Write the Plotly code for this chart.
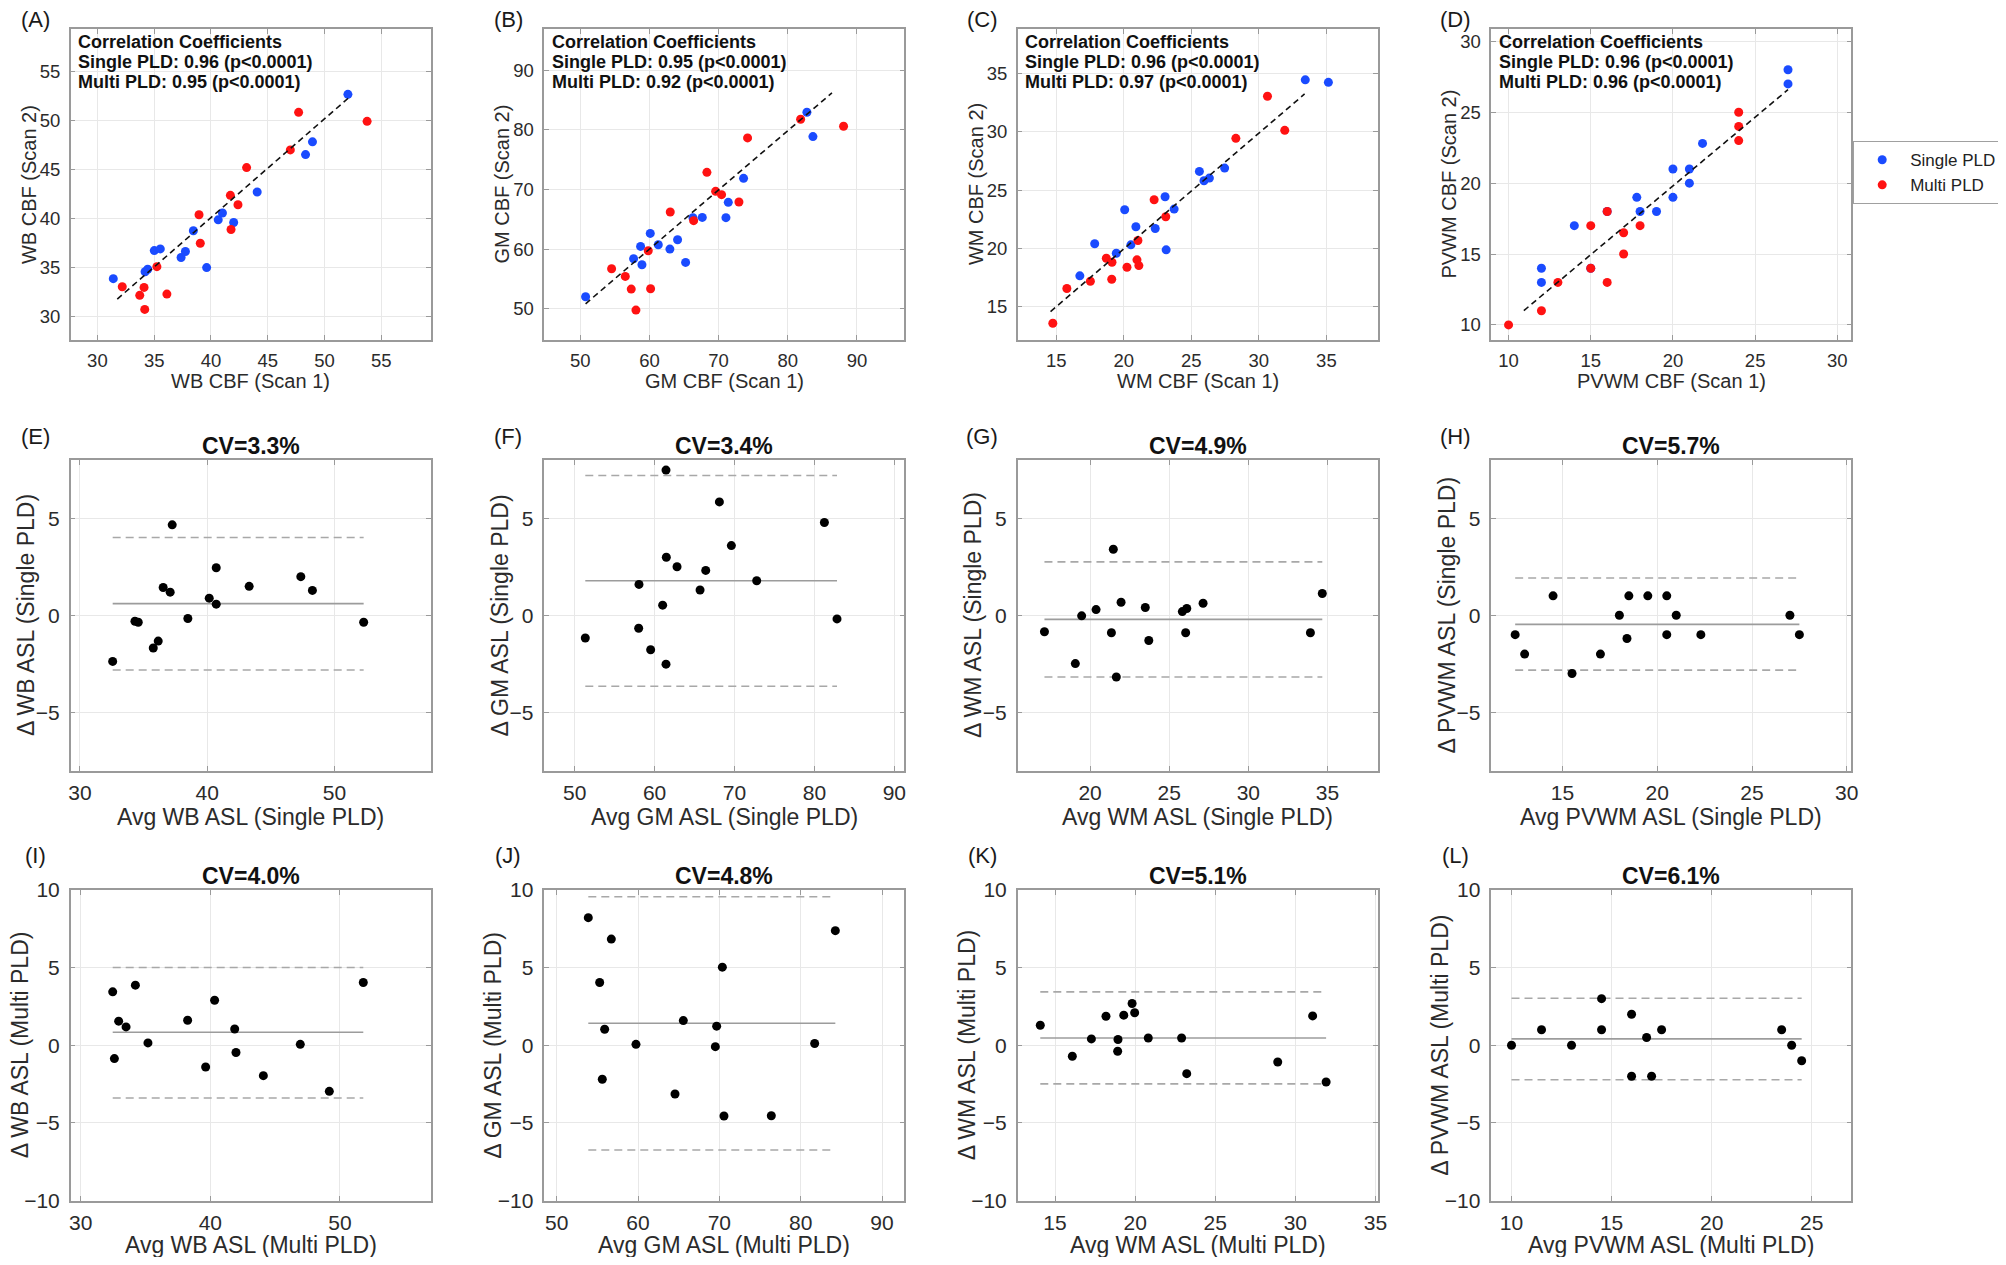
"""Test-retest CBF scatter plots and Bland-Altman panels."""

import plotly.graph_objects as go

# page is 2006x1265; the html body keeps an 8px margin, so the figure is made
# 16px smaller and every pixel position below is shifted by that margin
PAGE_W, PAGE_H = 2006, 1265
OFF = 8
FIG_W, FIG_H = PAGE_W - 2 * OFF, PAGE_H - 2 * OFF
FONT = "Liberation Sans, Arial, Helvetica, sans-serif"

regions = ["WB", "GM", "WM", "PVWM"]
panel_letters = ["(A)", "(B)", "(C)", "(D)", "(E)", "(F)", "(G)", "(H)", "(I)", "(J)", "(K)", "(L)"]

# ---- scan 1 vs scan 2 (top row) ----
wb_single_scan1 = [31.40, 34.20, 34.43, 35.01, 35.54, 37.37, 37.75, 38.45, 39.62, 40.64, 41.01, 42.00, 44.07, 48.33, 48.94, 52.06]
wb_single_scan2 = [33.89, 34.60, 34.85, 36.76, 36.93, 36.05, 36.66, 38.78, 35.02, 39.90, 40.59, 39.63, 42.74, 46.56, 47.86, 52.71]
wb_multi_scan1 = [32.19, 33.73, 34.11, 34.17, 35.24, 36.12, 38.95, 39.06, 41.71, 41.77, 42.38, 43.14, 46.99, 47.72, 53.75]
wb_multi_scan2 = [33.07, 32.19, 33.00, 30.75, 35.12, 32.32, 40.42, 37.51, 42.40, 38.91, 41.44, 45.23, 47.04, 50.87, 49.95]

gm_single_scan1 = [50.77, 57.71, 58.72, 58.92, 60.12, 61.28, 62.96, 64.07, 65.23, 66.29, 67.64, 71.06, 71.40, 73.61, 82.77, 83.64]
gm_single_scan2 = [52.01, 58.39, 60.46, 57.38, 62.64, 60.74, 60.01, 61.58, 57.77, 65.27, 65.32, 65.27, 67.84, 71.87, 82.94, 78.86]
gm_multi_scan1 = [54.53, 56.51, 57.37, 58.05, 59.83, 60.17, 63.01, 66.39, 68.31, 69.57, 70.43, 72.94, 74.19, 81.86, 88.07]
gm_multi_scan2 = [56.71, 55.43, 53.30, 49.78, 59.73, 53.36, 66.22, 64.77, 72.87, 69.69, 69.13, 67.90, 78.64, 81.77, 80.59]

wm_single_scan1 = [16.75, 17.85, 19.45, 20.07, 20.53, 20.90, 22.33, 23.06, 23.14, 23.73, 25.60, 25.94, 26.34, 27.47, 33.44, 35.15]
wm_single_scan2 = [17.64, 20.39, 19.58, 23.31, 20.30, 21.85, 21.70, 24.43, 19.87, 23.37, 26.60, 25.80, 26.03, 26.89, 34.46, 34.25]
wm_multi_scan1 = [14.75, 15.79, 17.53, 18.71, 19.13, 19.11, 20.24, 20.98, 21.12, 21.05, 22.25, 23.11, 28.30, 30.64, 31.92]
wm_multi_scan2 = [13.57, 16.55, 17.18, 19.15, 18.81, 17.35, 18.38, 19.01, 18.52, 20.67, 24.17, 22.71, 29.44, 33.05, 30.13]

pvwm_single_scan1 = [12, 12, 14, 15, 16, 17.8, 18, 19, 20, 20, 21, 21, 21.8, 27, 27]
pvwm_single_scan2 = [14, 13, 17, 14, 18, 19, 18, 18, 21, 19, 21, 20, 22.8, 28, 27]
pvwm_multi_scan1 = [10, 12, 13, 15, 15, 16, 16, 17, 17, 18, 24, 24, 24]
pvwm_multi_scan2 = [10, 11, 13, 17, 14, 18, 13, 16.5, 15, 17, 25, 24, 23]

fit_x = [[31.75, 52.14], [50.77, 86.39], [14.58, 33.39], [10.93, 27.0]]
fit_y = [[31.81, 52.37], [50.84, 86.19], [14.57, 33.25], [11.01, 26.59]]

corr_single = ["0.96", "0.95", "0.96", "0.96"]
corr_multi = ["0.95", "0.92", "0.97", "0.96"]

# ---- Bland-Altman, single PLD (middle row) ----
wb_ba_single_avg = [32.57, 34.32, 34.58, 35.76, 36.15, 36.54, 37.09, 37.25, 38.48, 40.16, 40.71, 40.71, 43.30, 47.36, 48.27, 52.30]
wb_ba_single_diff = [-2.38, -0.31, -0.36, -1.69, -1.33, 1.43, 1.19, 4.66, -0.17, 0.88, 2.45, 0.57, 1.49, 1.99, 1.28, -0.36]
gm_ba_single_avg = [51.33, 58.05, 58.01, 59.51, 61.01, 61.47, 61.43, 61.43, 62.81, 65.69, 66.40, 68.11, 69.61, 72.78, 81.25, 82.83]
gm_ba_single_diff = [-1.17, 1.59, -0.67, -1.78, 0.52, 2.99, 7.48, -2.52, 2.50, 1.30, 2.31, 5.84, 3.59, 1.78, 4.78, -0.19]
wm_ba_single_avg = [17.12, 19.07, 19.47, 20.38, 21.35, 21.47, 21.66, 21.96, 23.49, 23.71, 25.83, 26.11, 26.04, 27.14, 33.92, 34.67]
wm_ba_single_diff = [-0.85, -2.49, -0.03, 0.29, -0.90, 3.40, -3.18, 0.67, 0.40, -1.30, 0.19, 0.35, -0.90, 0.62, -0.90, 1.12]
pvwm_ba_single_avg = [12.5, 13.0, 14.5, 15.5, 17.0, 18.0, 18.4, 18.5, 19.5, 20.5, 20.5, 21.0, 22.3, 27.0, 27.5]
pvwm_ba_single_diff = [-1, -2, 1, -3, -2, 0, -1.2, 1, 1, 1, -1, 0, -1, 0, -1]

ba_single_bias = [0.60, 1.78, -0.21, -0.47]
ba_single_upper = [4.01, 7.20, 2.75, 1.92]
ba_single_lower = [-2.82, -3.66, -3.18, -2.83]
cv_single = ["3.3", "3.4", "4.9", "5.7"]

# ---- Bland-Altman, multi PLD (bottom row) ----
wb_ba_multi_avg = [32.47, 32.60, 32.93, 33.50, 34.22, 35.19, 38.25, 39.64, 40.33, 41.88, 41.98, 44.09, 46.94, 49.18, 51.80]
wb_ba_multi_diff = [3.44, -0.86, 1.55, 1.18, 3.87, 0.15, 1.61, -1.40, 2.90, 1.05, -0.47, -1.96, 0.06, -2.97, 4.04]
gm_ba_multi_avg = [53.89, 55.29, 55.61, 55.90, 56.72, 59.75, 64.55, 65.57, 69.51, 69.67, 70.37, 70.57, 76.39, 81.72, 84.26]
gm_ba_multi_diff = [8.22, 4.04, -2.19, 1.03, 6.84, 0.06, -3.14, 1.59, -0.09, 1.23, 5.03, -4.56, -4.54, 0.11, 7.38]
wm_ba_multi_avg = [14.08, 16.08, 17.27, 18.18, 18.93, 18.91, 19.29, 19.81, 19.97, 20.82, 22.90, 23.22, 28.90, 31.08, 31.92]
wm_ba_multi_diff = [1.29, -0.71, 0.41, 1.87, 0.37, -0.39, 1.94, 2.69, 2.09, 0.47, 0.47, -1.83, -1.08, 1.89, -2.37]
pvwm_ba_multi_avg = [10.0, 11.5, 13.0, 14.5, 14.5, 16.0, 16.0, 16.75, 17.0, 17.5, 23.5, 24.0, 24.5]
pvwm_ba_multi_diff = [0, 1, 0, 3, 1, 2, -2, 0.5, -2, 1, 1, 0, -1]

ba_multi_bias = [0.84, 1.42, 0.47, 0.41]
ba_multi_upper = [5.01, 9.57, 3.44, 3.03]
ba_multi_lower = [-3.40, -6.75, -2.49, -2.22]
cv_multi = ["4.0", "4.8", "5.1", "6.1"]

# axis limits / ticks
scatter_range = [[27.65, 59.35], [44.8, 96.85], [12.15, 38.8], [8.95, 30.85]]
scatter_dtick = [5, 10, 5, 5]
ba_single_xrange = [[29.27, 57.57], [46.2, 91.25], [15.43, 38.17], [11.24, 30.24]]
ba_multi_xrange = [[29.23, 57.0], [48.48, 92.74], [12.67, 35.14], [8.99, 26.98]]
ba_xdtick = [10, 10, 5, 5]

scatter_data = [
	(wb_single_scan1, wb_single_scan2, wb_multi_scan1, wb_multi_scan2),
	(gm_single_scan1, gm_single_scan2, gm_multi_scan1, gm_multi_scan2),
	(wm_single_scan1, wm_single_scan2, wm_multi_scan1, wm_multi_scan2),
	(pvwm_single_scan1, pvwm_single_scan2, pvwm_multi_scan1, pvwm_multi_scan2),
]
ba_single_data = [
	(wb_ba_single_avg, wb_ba_single_diff),
	(gm_ba_single_avg, gm_ba_single_diff),
	(wm_ba_single_avg, wm_ba_single_diff),
	(pvwm_ba_single_avg, pvwm_ba_single_diff),
]
ba_multi_data = [
	(wb_ba_multi_avg, wb_ba_multi_diff),
	(gm_ba_multi_avg, gm_ba_multi_diff),
	(wm_ba_multi_avg, wm_ba_multi_diff),
	(pvwm_ba_multi_avg, pvwm_ba_multi_diff),
]

# layout in page pixels
COL_LEFT = [70.7, 544.3, 1017.7, 1491.3]
COL_DX = 473.5
BOX_W = 360
ROW_TOP = [29.3, 460, 890]
BOX_H = 310.5
LABEL_X0 = 35
LABEL_Y = [19.5, 436, 855]
XTITLE_Y = [381.5, 816.5, 1244.5]
YTITLE_X = [28.5, 26.7, 20.0]
CORR_LINE_Y = [12.4, 33.0, 53.0]

BLUE = "#1a4bff"
RED = "#ff1212"
AXIS_GREY = "#9a9a9a"
TEXT = "#2b2b2b"

fig = go.Figure()
annotations = []


def px(x):
	return (x - OFF) / FIG_W


def py(y):
	return 1 - (y - OFF) / FIG_H


def ax_id(n):
	return "" if n == 1 else str(n)


def axis_style(rng, dtick, tick_size, standoff):
	return dict(
		range=rng,
		dtick=dtick,
		tick0=0,
		showgrid=True,
		gridcolor="#e8e8e8",
		gridwidth=1,
		zeroline=False,
		showline=True,
		linecolor=AXIS_GREY,
		linewidth=1.5,
		mirror="ticks",
		ticks="inside",
		ticklen=5,
		tickcolor=AXIS_GREY,
		tickfont=dict(family=FONT, size=tick_size, color=TEXT),
		ticklabelstandoff=standoff,
		automargin=False,
	)


def add_axes(n, row, col, xaxis, yaxis, xtitle, ytitle, title_size):
	xaxis.update(domain=[px(COL_LEFT[col]), px(COL_LEFT[col] + BOX_W)], anchor=f"y{ax_id(n)}")
	yaxis.update(domain=[py(ROW_TOP[row] + BOX_H), py(ROW_TOP[row])], anchor=f"x{ax_id(n)}")
	fig.update_layout({f"xaxis{ax_id(n)}": xaxis, f"yaxis{ax_id(n)}": yaxis})
	title_font = dict(family=FONT, size=title_size, color=TEXT)
	# axis titles as paper annotations so they sit exactly where the reference has them
	annotations.append(dict(
		xref="paper", yref="paper", x=px(COL_LEFT[col] + BOX_W / 2), y=py(XTITLE_Y[row]),
		xanchor="center", yanchor="middle", showarrow=False, text=xtitle, font=title_font,
	))
	annotations.append(dict(
		xref="paper", yref="paper", x=px(YTITLE_X[row] + col * COL_DX), y=py(ROW_TOP[row] + BOX_H / 2),
		xanchor="center", yanchor="middle", showarrow=False, textangle=-90, text=ytitle, font=title_font,
	))


for c in range(4):
	reg = regions[c]
	# top row: scan 1 vs scan 2
	n = c + 1
	xa, ya = f"x{ax_id(n)}", f"y{ax_id(n)}"
	s1, s2, m1, m2 = scatter_data[c]
	fig.add_trace(go.Scatter(
		x=s1, y=s2, mode="markers", name="Single PLD", legendgroup="single", showlegend=(c == 0),
		marker=dict(color=BLUE, size=9), xaxis=xa, yaxis=ya,
	))
	fig.add_trace(go.Scatter(
		x=m1, y=m2, mode="markers", name="Multi PLD", legendgroup="multi", showlegend=(c == 0),
		marker=dict(color=RED, size=9), xaxis=xa, yaxis=ya,
	))
	fig.add_trace(go.Scatter(
		x=fit_x[c], y=fit_y[c], mode="lines", showlegend=False,
		line=dict(color="#111111", width=1.6, dash="6px,4px"), xaxis=xa, yaxis=ya,
	))
	add_axes(
		n, 0, c,
		axis_style(scatter_range[c], scatter_dtick[c], 18.5, 3),
		axis_style(scatter_range[c], scatter_dtick[c], 18.5, 5),
		f"{reg} CBF (Scan 1)", f"{reg} CBF (Scan 2)", 20,
	)
	corr_lines = [
		"Correlation Coefficients",
		f"Single PLD: {corr_single[c]} (p&lt;0.0001)",
		f"Multi PLD: {corr_multi[c]} (p&lt;0.0001)",
	]
	for line_y, line_text in zip(CORR_LINE_Y, corr_lines):
		annotations.append(dict(
			xref=f"{xa} domain", yref=f"{ya} domain", x=5.3 / BOX_W, y=1 - line_y / BOX_H,
			xanchor="left", yanchor="middle", showarrow=False,
			text=f"<b>{line_text}</b>",
			font=dict(family=FONT, size=18, color="#111111"),
		))

	# middle and bottom rows: Bland-Altman
	for row, data, bias, upper, lower, cv, xr, yr, pld in (
		(1, ba_single_data[c], ba_single_bias[c], ba_single_upper[c], ba_single_lower[c], cv_single[c],
		 ba_single_xrange[c], [-8, 8], "Single PLD"),
		(2, ba_multi_data[c], ba_multi_bias[c], ba_multi_upper[c], ba_multi_lower[c], cv_multi[c],
		 ba_multi_xrange[c], [-10, 10], "Multi PLD"),
	):
		n = row * 4 + c + 1
		xa, ya = f"x{ax_id(n)}", f"y{ax_id(n)}"
		avg, diff = data
		span = [min(avg), max(avg)]
		for level, dash, colr in ((upper, "8px,5px", "#a8a8a8"), (lower, "8px,5px", "#a8a8a8"), (bias, "solid", "#9c9c9c")):
			fig.add_trace(go.Scatter(
				x=span, y=[level, level], mode="lines", showlegend=False,
				line=dict(color=colr, width=1.6, dash=dash), xaxis=xa, yaxis=ya,
			))
		fig.add_trace(go.Scatter(
			x=avg, y=diff, mode="markers", showlegend=False,
			marker=dict(color="black", size=9), xaxis=xa, yaxis=ya,
		))
		add_axes(
			n, row, c,
			axis_style(xr, ba_xdtick[c], 21, 3),
			axis_style(yr, 5, 21, 5),
			f"Avg {reg} ASL ({pld})", f"\u0394 {reg} ASL ({pld})", 23,
		)
		annotations.append(dict(
			xref=f"{xa} domain", yref=f"{ya} domain", x=0.5, y=1 + 14 / BOX_H,
			xanchor="center", yanchor="middle", showarrow=False,
			text=f"<b>CV={cv}%</b>", font=dict(family=FONT, size=23, color="#111111"),
		))

# panel letters
for i, letter in enumerate(panel_letters):
	r, c = divmod(i, 4)
	annotations.append(dict(
		xref="paper", yref="paper", x=px(LABEL_X0 + c * COL_DX), y=py(LABEL_Y[r]),
		xanchor="center", yanchor="middle", showarrow=False,
		text=letter, font=dict(family=FONT, size=22, color="#1a1a1a"),
	))

fig.update_layout(
	width=FIG_W,
	height=FIG_H,
	margin=dict(l=0, r=0, t=0, b=0, pad=0, autoexpand=False),
	paper_bgcolor="white",
	plot_bgcolor="white",
	font=dict(family=FONT, color=TEXT),
	annotations=annotations,
	legend=dict(
		x=px(1853), y=py(141), xanchor="left", yanchor="top",
		bordercolor="#a0a0a0", borderwidth=1.2, bgcolor="white",
		font=dict(family=FONT, size=17, color="#222222"),
		itemwidth=46,
		tracegroupgap=0,
	),
)

fig.write_html("out.html")
